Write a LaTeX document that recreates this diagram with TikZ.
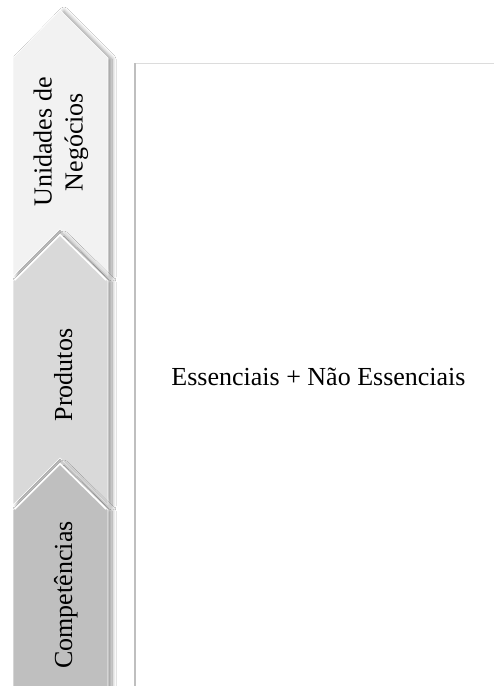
\documentclass[tikz,border=0pt]{standalone}
\usepackage{fontspec}
\setmainfont{Liberation Serif}
\usetikzlibrary{shadows.blur}
\definecolor{tierA}{HTML}{F2F2F2}
\definecolor{tierB}{HTML}{D9D9D9}
\definecolor{tierC}{HTML}{BFBFBF}
\definecolor{panelLeft}{HTML}{BFBFBF}
\definecolor{panelTop}{HTML}{DCDCDC}
\begin{document}
\begin{tikzpicture}[x=1pt,y=-1pt,
  tier/.style={draw=white,line width=0.6pt,line join=miter,
    blur shadow={shadow xshift=4pt,shadow yshift=-1pt,shadow blur radius=4pt,
      shadow blur steps=12,shadow opacity=40}},
  tierlabel/.style={rotate=90,font=\fontsize{26}{31}\selectfont,text=black,inner sep=0pt},
  bevel/.style={draw=white,line width=1.4pt,line cap=round}]
  \useasboundingbox (0,0) rectangle (494,686);
  \fill[white] (0,0) rectangle (494,686);

  % right-hand content panel
  \coordinate (pTL) at (135,63);
  \coordinate (pTR) at (494,63);
  \coordinate (pBL) at (135,686);
  \draw[panelTop,line width=1pt] (pTL) -- (pTR);
  \draw[panelLeft,line width=1.3pt] (pTL) -- (pBL);

  % stacked up-pointing tiers
  \path[tier,fill=tierA] (13,58) -- (60,10) -- (108,58) -- (108,276) -- (60,229) -- (13,276) -- cycle;
  \path[tier,fill=tierB] (13,281) -- (60,234) -- (108,281) -- (108,505) -- (60,458) -- (13,505) -- cycle;
  \path[tier,fill=tierC] (13,510) -- (60,463) -- (108,510) -- (108,690) -- (13,690) -- cycle;

  % light bevel on the apexes of the lower tiers
  \draw[bevel] (15,280) -- (60,235) -- (106,280);
  \draw[bevel] (15,509) -- (60,464) -- (106,509);

  % tier labels
  \node[tierlabel,align=center] (units) at (61,142) {Unidades de\\Negócios};
  \node[tierlabel,anchor=base] (products) at (72,375) {Produtos};
  \node[tierlabel,anchor=base] (skills) at (72,595) {Competências};

  % panel text
  \node[font=\fontsize{26}{31}\selectfont,anchor=base,inner sep=0pt] (essentials) at (318.5,385) {Essenciais + Não Essenciais};
\end{tikzpicture}
\end{document}
